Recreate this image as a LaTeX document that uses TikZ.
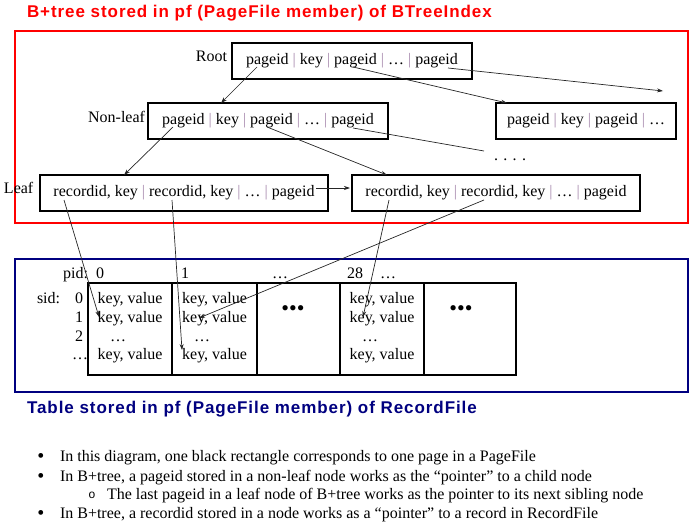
\documentclass[tikz,border=0pt]{standalone}
\usepackage{fontspec}
\setmainfont{Liberation Serif}
\newfontfamily\titlefont[LetterSpace=5.5]{Liberation Sans}
\newfontfamily\monofont{Liberation Mono}
\usetikzlibrary{arrows.meta}
\definecolor{sepc}{HTML}{A88AAE}
\definecolor{navyc}{HTML}{000080}
\definecolor{redc}{HTML}{FF0000}
\newcommand\sepbar{\textcolor{sepc}{|}}
\begin{document}
\begin{tikzpicture}[x=1pt,y=-1pt,
  every node/.style={inner sep=0pt, outer sep=0pt},
  txt/.style={font=\fontsize{16}{19}\selectfont},
  pg/.style={draw, line width=1.1pt, txt, text height=11pt, text depth=4pt, minimum height=36pt},
  cell/.style={draw, line width=1.1pt, minimum height=92pt},
  lbl/.style={txt, anchor=base east},
  ptr/.style={draw=black!85, line width=0.7pt, -{Stealth[length=6pt,width=4pt]}},
  plain/.style={draw=black!85, line width=0.7pt},
  ttl/.style={anchor=base west, font=\titlefont\bfseries\fontsize{17}{20}\selectfont},
  bigdots/.style={font=\fontsize{22}{22}\selectfont},
  bul/.style={anchor=base, font=\fontsize{20}{20}\selectfont}
]
\useasboundingbox (0,0) rectangle (695,527);

% ---------- B+tree part ----------
\node[ttl, text=redc] (t1) at (27,18) {B+tree stored in pf (PageFile member) of BTreeIndex};
\node[draw=redc, line width=2.4pt, minimum width=673pt, minimum height=192pt] (redframe) at (351.5,127) {};

\node[lbl] (rootl) at (227,62) {Root};
\node[lbl] (nonleafl) at (145,122) {Non-leaf};
\node[txt, anchor=base west] (leafl) at (4,193) {Leaf};

\node[pg, minimum width=240pt] (root) at (352,61) {pageid \sepbar{} key \sepbar{} pageid \sepbar{} … \sepbar{} pageid};
\node[pg, minimum width=240pt] (nl) at (268,121) {pageid \sepbar{} key \sepbar{} pageid \sepbar{} … \sepbar{} pageid};
\node[pg, minimum width=180pt] (nr) at (586,121) {pageid \sepbar{} key \sepbar{} pageid \sepbar{} …};
\node[txt, anchor=base west] (moredots) at (494,160) {. . . .};
\node[pg, minimum width=288pt] (leaf1) at (184,193) {recordid, key \sepbar{} recordid, key \sepbar{} … \sepbar{} pageid};
\node[pg, minimum width=288pt] (leaf2) at (496,193) {recordid, key \sepbar{} recordid, key \sepbar{} … \sepbar{} pageid};

% pointer origins and ends
\coordinate (r1) at (257,67);
\coordinate (r3) at (353,67);
\coordinate (r5) at (448,68);
\coordinate (rfree) at (663,91);
\coordinate (n1) at (173,127);
\coordinate (n3) at (267,127);
\coordinate (n5) at (353,128);
\coordinate (nfree) at (484,151);
\coordinate (nltop) at (221,103);
\coordinate (nrtop) at (507,103);
\coordinate (l1top) at (124,175);
\coordinate (l2top) at (387,175);
\coordinate (l1p) at (316,188);
\coordinate (l2left) at (350,188);
\coordinate (l1a) at (64,200);
\coordinate (l1b) at (172,200);
\coordinate (l2a) at (389,200);
\coordinate (l2b) at (484,200);

% ---------- RecordFile part ----------
\node[draw=navyc, line width=2pt, minimum width=673pt, minimum height=133pt] (blueframe) at (351.5,325.5) {};
\node[ttl, text=navyc] (t2) at (27,413.5) {Table stored in pf (PageFile member) of RecordFile};

\node[cell, minimum width=84pt] (c0) at (130,329) {};
\node[cell, minimum width=85pt] (c1) at (214.5,329) {};
\node[cell, minimum width=83pt] (c2) at (298.5,329) {};
\node[cell, minimum width=84pt] (c3) at (382,329) {};
\node[cell, minimum width=92pt] (c4) at (470,329) {};

\node[lbl] (pidl) at (88,278) {pid:};
\node[txt, anchor=base west] (p0) at (96,278) {0};
\node[txt, anchor=base west] (p1) at (181,278) {1};
\node[txt, anchor=base west] (p2) at (272,278) {…};
\node[txt, anchor=base west] (p28) at (347,278) {28};
\node[txt, anchor=base west] (p29) at (380,278) {…};

\node[txt, anchor=base west] (sidl) at (37,303) {sid:};
\node[txt, anchor=base west] (s0) at (75,303) {0};
\node[txt, anchor=base west] (s1) at (75,322) {1};
\node[txt, anchor=base west] (s2) at (75,341) {2};
\node[txt, anchor=base east] (s3) at (88,359) {…};

\foreach \cx/\dx/\nm in {130/118/a, 214.5/202/b, 382/370/d}{
  \node[txt, anchor=base] (\nm1) at (\cx,303) {key, value};
  \node[txt, anchor=base] (\nm2) at (\cx,322) {key, value};
  \node[txt, anchor=base] (\nm3) at (\dx,341) {…};
  \node[txt, anchor=base] (\nm4) at (\cx,359) {key, value};
}
\node[bigdots] (dots2) at (293,311) {•••};
\node[bigdots] (dots4) at (461,311) {•••};

\coordinate (ra) at (99,317);
\coordinate (rb) at (182,350);
\coordinate (rc) at (363,317);
\coordinate (rd) at (199,318);

% ---------- connectors ----------
\draw[ptr] (r1) -- (nltop);
\draw[ptr] (r3) -- (nrtop);
\draw[ptr] (r5) -- (rfree);
\draw[ptr] (n1) -- (l1top);
\draw[ptr] (n3) -- (l2top);
\draw[plain] (n5) -- (nfree);
\draw[ptr] (l1p) -- (l2left);
\draw[ptr] (l1a) -- (ra);
\draw[ptr] (l1b) -- (rb);
\draw[ptr] (l2a) -- (rc);
\draw[ptr] (l2b) -- (rd);

% ---------- notes ----------
\node[bul] (b1) at (41,462) {•};
\node[txt, anchor=base west] (n1t) at (60,461) {In this diagram, one black rectangle corresponds to one page in a PageFile};
\node[bul] (b2) at (41,482) {•};
\node[txt, anchor=base west] (n2t) at (60,481) {In B+tree, a pageid stored in a non-leaf node works as the “pointer” to a child node};
\node[anchor=base, font=\monofont\fontsize{12}{12}\selectfont] (b3) at (92,498) {o};
\node[txt, anchor=base west] (n3t) at (107,499) {The last pageid in a leaf node of B+tree works as the pointer to its next sibling node};
\node[bul] (b4) at (41,519) {•};
\node[txt, anchor=base west] (n4t) at (60,518) {In B+tree, a recordid stored in a node works as a “pointer” to a record in RecordFile};
\end{tikzpicture}
\end{document}
